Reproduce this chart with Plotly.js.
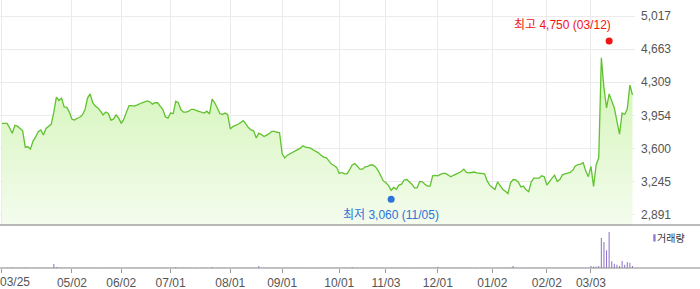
<!DOCTYPE html>
<html>
<head>
<meta charset="utf-8">
<script src="https://cdn.plot.ly/plotly-3.0.1.min.js"></script>
<style>html,body{margin:0;padding:0;background:#fff;}#chart{width:700px;height:289px;}</style>
</head>
<body>
<div id="chart"></div>
<script>
// Daily closing prices (trading days 2025-03-25 .. 2026-03-26)
const prices = [
3870,3870,3870,3820,3765,3850,3840,3815,3790,3615,
3620,3595,3680,3725,3780,3800,3745,3815,3840,3860,
3990,4150,4115,4140,4045,4040,3990,3915,3905,3925,
3935,3960,4015,4140,4185,4090,4055,4035,4000,3960,
3990,3975,3905,3915,3960,3925,3870,3915,3990,4060,
4060,4055,4065,4080,4090,4100,4110,4100,4075,4090,
4090,4055,4020,3940,3925,3980,3975,4105,4090,4015,
3990,3990,4000,4020,4020,4005,3995,3985,3980,4000,
3970,4130,4090,4035,3975,3965,3980,3965,3810,3835,
3845,3860,3880,3900,3865,3825,3800,3790,3715,3765,
3750,3730,3745,3760,3785,3785,3775,3770,3545,3500,
3530,3545,3555,3575,3585,3605,3630,3615,3610,3605,
3585,3570,3555,3530,3510,3505,3470,3435,3420,3400,
3335,3345,3330,3330,3375,3425,3440,3405,3380,3380,
3405,3410,3425,3425,3405,3365,3300,3255,3235,3205,
3155,3185,3165,3210,3220,3265,3270,3250,3220,3180,
3180,3250,3245,3220,3200,3200,3310,3315,3310,3325,
3335,3335,3320,3300,3315,3325,3340,3355,3380,3345,
3340,3345,3350,3340,3335,3335,3330,3255,3210,3185,
3165,3245,3210,3165,3145,3120,3235,3270,3265,3245,
3190,3200,3160,3140,3245,3285,3285,3285,3310,3300,
3210,3255,3285,3315,3250,3270,3320,3330,3335,3345,
3370,3415,3430,3435,3450,3360,3300,3410,3195,3425,
3505,4570,4250,4035,4185,4110,4035,3895,3755,3980,
3965,4025,4280,4175
];
// Daily volume (shares)
const volumes = [
30000,25000,20000,35000,40000,28000,22000,30000,26000,45000,
30000,28000,24000,20000,18000,22000,25000,20000,19000,30000,
400000,100000,45000,30000,25000,22000,20000,28000,18000,16000,
15000,20000,25000,30000,35000,22000,18000,16000,15000,17000,
18000,15000,20000,16000,14000,15000,18000,16000,20000,22000,
18000,16000,15000,14000,16000,15000,14000,13000,15000,16000,
14000,15000,18000,20000,16000,15000,17000,100000,30000,18000,
15000,14000,13000,15000,14000,13000,12000,14000,15000,13000,
16000,100000,28000,18000,15000,14000,13000,15000,30000,22000,
18000,16000,15000,14000,16000,18000,17000,16000,22000,200000,
30000,20000,16000,15000,14000,13000,14000,15000,35000,28000,
20000,18000,16000,15000,14000,15000,16000,14000,13000,14000,
15000,14000,16000,15000,14000,13000,18000,16000,15000,17000,
25000,20000,18000,16000,17000,100000,25000,18000,16000,15000,
14000,13000,14000,15000,16000,18000,24000,22000,20000,25000,
35000,24000,20000,18000,16000,17000,15000,14000,16000,18000,
17000,16000,14000,15000,16000,15000,22000,18000,130000,20000,
16000,15000,14000,15000,14000,13000,14000,15000,18000,16000,
14000,13000,14000,13000,12000,13000,14000,22000,25000,20000,
18000,24000,20000,18000,22000,28000,40000,200000,30000,20000,
18000,16000,20000,22000,25000,20000,16000,15000,16000,14000,
20000,18000,16000,15000,17000,16000,18000,17000,16000,18000,
20000,25000,22000,20000,24000,30000,35000,200000,150000,150000,
200000,3000000,2600000,1770000,3600000,670000,430000,330000,200000,700000,
330000,600000,530000,200000
];
// x-axis ticks: trading-day index and label
const tickIdx = [0, 27, 46, 65, 88, 108, 130, 148, 168, 189, 210, 227];
const tickLabels = ['03/25','05/02','06/02','07/01','08/01','09/01','10/01','11/03','12/01','01/02','02/02','03/03'];
// y-axis ticks
const yTicks = [2891, 3245, 3600, 3954, 4309, 4663, 5017];
// extremes
const hiIdx = 234, hiVal = 4750, hiLabel = '최고 4,750 (03/12)';
const loIdx = 150, loVal = 3060, loLabel = '최저 3,060 (11/05)';
const volName = '거래량';

const idx = prices.map((_, i) => i);
const FONT = 'Liberation Sans, "Noto Sans CJK KR", sans-serif';
const PX = 700, PY = 289;
const xRange = [-0.732, 243.97];
const yRange = [2784, 5188];
const VOLC = '#8f74cc';

const traces = [
  {
    type: 'scatter', mode: 'lines', x: idx, y: prices, xaxis: 'x', yaxis: 'y',
    line: {color: '#5fc22e', width: 1.3},
    fill: 'tozeroy',
    fillgradient: {type: 'vertical', start: 2784, stop: 4600,
      colorscale: [[0, 'rgb(244,252,238)'], [1, 'rgb(208,244,178)']]},
    hoverinfo: 'skip', showlegend: false
  },
  {
    type: 'scatter', mode: 'markers', x: [hiIdx], y: [hiVal], xaxis: 'x', yaxis: 'y',
    marker: {color: '#f01414', size: 7}, showlegend: false, hoverinfo: 'skip'
  },
  {
    type: 'scatter', mode: 'markers', x: [loIdx], y: [loVal], xaxis: 'x', yaxis: 'y',
    marker: {color: '#2c74d8', size: 7}, showlegend: false, hoverinfo: 'skip'
  },
  {
    type: 'bar', x: idx, y: volumes, xaxis: 'x2', yaxis: 'y2', width: 0.4,
    marker: {color: VOLC, line: {width: 0}}, showlegend: false, hoverinfo: 'skip', name: volName
  }
];

const layout = {
  width: PX, height: PY,
  margin: {l: 0, r: 0, t: 0, b: 0},
  paper_bgcolor: '#fff', plot_bgcolor: '#fff',
  font: {family: FONT, size: 12, color: '#555'},
  showlegend: false,
  xaxis: {
    domain: [0, 635 / PX], range: xRange, anchor: 'y',
    tickmode: 'array', tickvals: tickIdx, showticklabels: false,
    showgrid: true, gridcolor: '#ebebeb', gridwidth: 1, zeroline: false, ticks: '', showline: false
  },
  yaxis: {
    domain: [64 / PY, 1], range: yRange, anchor: 'x', side: 'right',
    tickmode: 'array', tickvals: yTicks, ticktext: yTicks.map(v => v.toLocaleString('en-US')),
    showgrid: true, gridcolor: '#ebebeb', gridwidth: 1, zeroline: false, ticks: '',
    ticklabelstandoff: 5, tickfont: {family: FONT, size: 12, color: '#555'}
  },
  xaxis2: {
    domain: [0, 635 / PX], range: xRange, anchor: 'y2',
    tickmode: 'array', tickvals: tickIdx, ticktext: tickLabels.map((t, i) => i === 0 ? '' : t),
    ticks: 'outside', ticklen: 4, tickcolor: '#999', tickwidth: 1,
    showgrid: false, zeroline: false, showline: false,
    tickfont: {family: FONT, size: 12, color: '#555'}
  },
  yaxis2: {
    domain: [21 / PY, 64 / PY], range: [0, 4300000], anchor: 'x2', visible: false
  },
  shapes: [
    {type: 'line', xref: 'paper', yref: 'paper', x0: 0, x1: 1, y0: 64 / PY, y1: 64 / PY,
     line: {color: '#777', width: 1}},
    {type: 'line', xref: 'paper', yref: 'paper', x0: 0, x1: 1, y0: 21 / PY, y1: 21 / PY,
     line: {color: '#888', width: 1}},
    {type: 'rect', xref: 'paper', yref: 'paper', x0: 653.3 / PX, x1: 655.6 / PX,
     y0: (PY - 241.5) / PY, y1: (PY - 234.3) / PY, fillcolor: VOLC, line: {width: 0}}
  ],
  annotations: [
    {x: hiIdx, y: hiVal, xref: 'x', yref: 'y', text: hiLabel, showarrow: false,
     xanchor: 'right', yanchor: 'middle', xshift: 4, yshift: 16,
     font: {family: FONT, size: 12, color: '#f01414'}},
    {x: loIdx, y: loVal, xref: 'x', yref: 'y', text: loLabel, showarrow: false,
     xanchor: 'center', yanchor: 'middle', yshift: -16,
     font: {family: FONT, size: 12, color: '#2c74d8'}},
    {x: 0, y: (PY - 281.7) / PY, xref: 'paper', yref: 'paper', text: tickLabels[0], showarrow: false,
     xanchor: 'left', yanchor: 'middle', xshift: -2,
     font: {family: FONT, size: 12, color: '#555'}},
    {x: 657 / PX, y: (PY - 238) / PY, xref: 'paper', yref: 'paper', text: volName, showarrow: false,
     xanchor: 'left', yanchor: 'middle', xshift: -2,
     font: {family: FONT, size: 10, color: '#333'}}
  ]
};

Plotly.newPlot('chart', traces, layout, {staticPlot: true, displayModeBar: false});
</script>
</body>
</html>
